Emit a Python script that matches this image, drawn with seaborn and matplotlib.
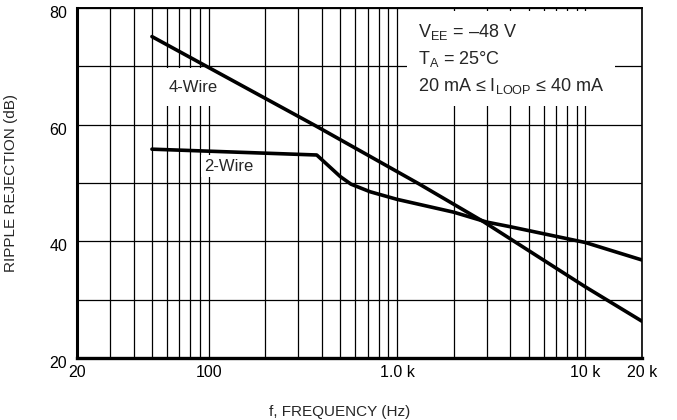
import numpy as np
import pandas as pd
import matplotlib
matplotlib.use("Agg")
import matplotlib.pyplot as plt
import matplotlib.ticker as mticker
import matplotlib.transforms as mtrans
import seaborn as sns

# 4-wire curve (Hz, dB)
freq_4wire = [50, 370, 1300, 2870, 10000, 20000]
rr_4wire = [75.1, 59.8, 49.9, 43.4, 32.2, 26.3]

# 2-wire curve (Hz, dB)
freq_2wire = [50, 375, 500, 570, 720, 1000, 2000, 3000, 4000, 10000, 20000]
rr_2wire = [55.8, 54.8, 51.1, 49.8, 48.5, 47.2, 45.0, 43.3, 42.5, 39.8, 36.8]

x_ticks = [20, 100, 1000, 10000, 20000]
x_ticklabels = ["20", "100", "1.0 k", "10 k", "20 k"]
x_minor = [30, 40, 50, 60, 70, 80, 90, 200, 300, 400, 500, 600, 700, 800, 900,
           2000, 3000, 4000, 5000, 6000, 7000, 8000, 9000]
y_ticks = [20, 40, 60, 80]
y_minor = [30, 50, 70]

sns.set_style("white")
plt.rcParams["font.family"] = ["Liberation Sans", "DejaVu Sans"]
plt.rcParams["mathtext.fontset"] = "custom"
plt.rcParams["mathtext.rm"] = "Liberation Sans"

df4 = pd.DataFrame({"f": freq_4wire, "rr": rr_4wire})
df2 = pd.DataFrame({"f": freq_2wire, "rr": rr_2wire})

fig = plt.figure(figsize=(6.77, 4.2), dpi=100)
ax = fig.add_axes([77 / 677, 1 - 358 / 420, 565 / 677, 350 / 420])
ax.set_xscale("log")

sns.lineplot(data=df4, x="f", y="rr", ax=ax, color="black", lw=2.6, zorder=5)
sns.lineplot(data=df2, x="f", y="rr", ax=ax, color="black", lw=2.6, zorder=5)

ax.set_xlim(20, 20000)
ax.set_ylim(20, 80)

ax.xaxis.set_major_locator(mticker.FixedLocator(x_ticks))
ax.xaxis.set_major_formatter(mticker.FixedFormatter(x_ticklabels))
ax.xaxis.set_minor_locator(mticker.FixedLocator(x_minor))
ax.xaxis.set_minor_formatter(mticker.NullFormatter())
ax.yaxis.set_major_locator(mticker.FixedLocator(y_ticks))
ax.yaxis.set_minor_locator(mticker.FixedLocator(y_minor))

ax.tick_params(which="both", length=0, labelsize=11.5, colors="black")
ax.tick_params(axis="x", pad=5)
ax.tick_params(axis="y", pad=7)
shift = mtrans.ScaledTranslation(0, -4 / 100, fig.dpi_scale_trans)
for lab in ax.get_yticklabels():
    lab.set_transform(lab.get_transform() + shift)

ax.grid(which="both", color="black", lw=0.9)
ax.set_axisbelow(True)

for side, w in [("left", 2.2), ("bottom", 2.4), ("top", 1.4), ("right", 1.2)]:
    ax.spines[side].set_visible(True)
    ax.spines[side].set_color("black")
    ax.spines[side].set_linewidth(w)

ax.set_xlabel("f, FREQUENCY (Hz)", fontsize=11)
ax.set_ylabel("RIPPLE REJECTION (dB)", fontsize=11)
ax.xaxis.set_label_coords((340 - 77) / 565, -0.135)
ax.yaxis.set_label_coords(-0.105, 0.5)

ax.text(82.6, 66.4, "4-Wire", fontsize=12, ha="center", va="center", zorder=4,
        bbox=dict(boxstyle="square,pad=0.7", fc="white", ec="none"))
ax.text(128, 52.9, "2-Wire", fontsize=12, ha="center", va="center", zorder=4,
        bbox=dict(boxstyle="square,pad=0.2", fc="white", ec="none"))
ax.text(1295, 77.6,
        "V$_\\mathregular{EE}$ = \u201348 V\n"
        "T$_\\mathregular{A}$ = 25\u00b0C\n"
        "20 mA \u2264 I$_\\mathregular{LOOP}$ \u2264 40 mA",
        fontsize=13, ha="left", va="top", linespacing=1.45, zorder=4,
        bbox=dict(boxstyle="square,pad=0.6", fc="white", ec="none"))

fig.savefig("out.png", dpi=100)
